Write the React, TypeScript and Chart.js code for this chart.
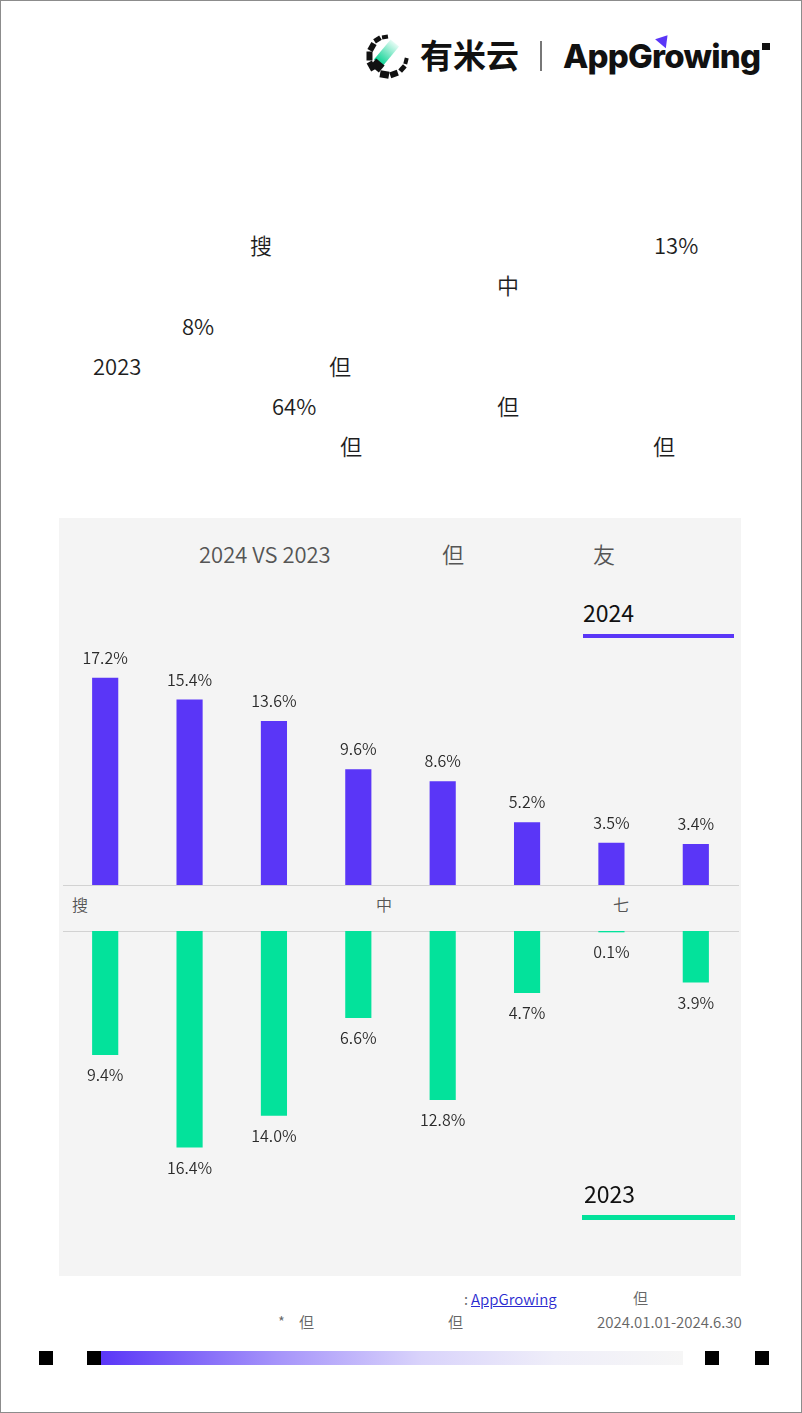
import React, { useEffect, useRef } from "react";
import { Chart, registerables } from "chart.js";

Chart.register(...registerables);

// ---------- data ----------
const categories = ["1", "2", "3", "4", "5", "6", "7", "8"];
const values2024 = [17.2, 15.4, 13.6, 9.6, 8.6, 5.2, 3.5, 3.4];
const values2023 = [9.4, 16.4, 14.0, 6.6, 12.8, 4.7, 0.1, 3.9];
const seriesLabels = ["2024", "2023"];

const PURPLE = "#5a36f7";
const GREEN = "#03e29b";
const FONT = '"Noto Sans CJK SC", "Noto Sans", sans-serif';

const valueLabels = (dir: number) => ({
  id: "valueLabels",
  afterDatasetsDraw(chart: any) {
    const { ctx } = chart;
    const meta = chart.getDatasetMeta(0);
    const data = chart.data.datasets[0].data as number[];
    ctx.save();
    ctx.font = `350 16px ${FONT}`;
    ctx.fillStyle = "#2a2a2a";
    ctx.textAlign = "center";
    ctx.textBaseline = "middle";
    meta.data.forEach((bar: any, i: number) => {
      ctx.fillText(`${data[i].toFixed(1)}%`, bar.x, bar.y + dir * 20);
    });
    ctx.restore();
  },
});

function makeChart(
  canvas: HTMLCanvasElement,
  label: string,
  values: number[],
  color: string,
  max: number,
  reverse: boolean,
  dir: number
) {
  return new Chart(canvas, {
    type: "bar",
    data: {
      labels: categories,
      datasets: [
        {
          label,
          data: values,
          backgroundColor: color,
          borderWidth: 0,
          barPercentage: 0.31,
          categoryPercentage: 1,
        },
      ],
    },
    options: {
      animation: false,
      responsive: true,
      maintainAspectRatio: false,
      layout: { padding: 0 },
      plugins: { legend: { display: false }, tooltip: { enabled: false } },
      scales: {
        x: { display: false, offset: true },
        y: { display: false, min: 0, max, reverse },
      },
    },
    plugins: [valueLabels(dir)],
  } as any);
}

const T = ({
  x,
  cy,
  size,
  color = "#1e1e1e",
  weight = 350,
  style = {},
  children,
}: any) => (
  <div
    style={{
      position: "absolute",
      left: x,
      top: cy - size * 0.56,
      fontSize: size,
      lineHeight: 1,
      color,
      fontWeight: weight,
      whiteSpace: "nowrap",
      fontFamily: FONT,
      ...style,
    }}
  >
    {children}
  </div>
);

const Box = ({ x, y, w, h, bg, style = {} }: any) => (
  <div style={{ position: "absolute", left: x, top: y, width: w, height: h, background: bg, ...style }} />
);

function Logo() {
  const dashes = [
    { a: 150, w: 9, h: 6 },
    { a: 180, w: 9, h: 6 },
    { a: 210, w: 8, h: 6 },
    { a: 238, w: 7, h: 5 },
    { a: 262, w: 6, h: 4 },
    { a: 15, w: 6, h: 4 },
    { a: 42, w: 7, h: 5 },
    { a: 70, w: 8, h: 6 },
    { a: 100, w: 9, h: 7 },
  ];
  const cx = 388;
  const cy = 56;
  const r = 19;
  return (
    <>
      {dashes.map((d, i) => {
        const rad = (d.a * Math.PI) / 180;
        return (
          <div
            key={i}
            style={{
              position: "absolute",
              left: cx + r * Math.cos(rad) - d.w / 2,
              top: cy + r * Math.sin(rad) - d.h / 2,
              width: d.w,
              height: d.h,
              background: "#111",
              transform: `rotate(${d.a + 90}deg)`,
            }}
          />
        );
      })}
      <div
        style={{
          position: "absolute",
          left: 381,
          top: 40,
          width: 11,
          height: 26,
          background: "linear-gradient(to bottom, rgba(3,226,155,0.1), #03d08f)",
          transform: "rotate(40deg)",
          transformOrigin: "50% 50%",
        }}
      />
      <div
        style={{
          position: "absolute",
          left: 372,
          top: 61,
          width: 11,
          height: 9,
          background: "#111",
          transform: "rotate(40deg)",
        }}
      />
      <T x={420} cy={56} size={33} color="#111" weight={700}>
        有米云
      </T>
      <Box x={540} y={41} w={2} h={30} bg="#777" />
      <div
        style={{
          position: "absolute",
          left: 563,
          top: 36,
          fontFamily: "Inter, sans-serif",
          fontWeight: 800,
          fontSize: 33,
          lineHeight: "40px",
          letterSpacing: -0.8,
          color: "#111",
          whiteSpace: "nowrap",
        }}
      >
        AppGrowing
      </div>
      <div
        style={{
          position: "absolute",
          left: 657,
          top: 34,
          width: 0,
          height: 0,
          borderLeft: "7px solid transparent",
          borderRight: "7px solid transparent",
          borderBottom: "11px solid " + PURPLE,
          transform: "rotate(40deg)",
        }}
      />
      <Box x={762} y={43} w={8} h={7} bg="#111" />
    </>
  );
}

export default function App() {
  const topRef = useRef<HTMLCanvasElement>(null);
  const botRef = useRef<HTMLCanvasElement>(null);

  useEffect(() => {
    const c1 = makeChart(topRef.current!, seriesLabels[0], values2024, PURPLE, 285 / 12.05, false, -1);
    const c2 = makeChart(botRef.current!, seriesLabels[1], values2023, GREEN, 270 / 13.2, true, 1);
    return () => {
      c1.destroy();
      c2.destroy();
    };
  }, []);

  return (
    <div
      style={{
        position: "absolute",
        left: 0,
        top: 0,
        width: 802,
        height: 1413,
        background: "#fff",
        overflow: "hidden",
        fontFamily: FONT,
      }}
    >
      <Logo />

      {/* headline text */}
      <T x={250} cy={245} size={22}>搜</T>
      <T x={654} cy={245} size={22}>13%</T>
      <T x={497} cy={285} size={22}>中</T>
      <T x={182} cy={326} size={22}>8%</T>
      <T x={93} cy={366} size={22}>2023</T>
      <T x={329} cy={366} size={22}>但</T>
      <T x={272} cy={406} size={22}>64%</T>
      <T x={497} cy={406} size={22}>但</T>
      <T x={340} cy={446} size={22}>但</T>
      <T x={653} cy={446} size={22}>但</T>

      {/* panel */}
      <Box x={59} y={518} w={682} h={758} bg="#f4f4f4" />

      <T x={199} cy={554} size={22} color="#555">2024 VS 2023</T>
      <T x={442} cy={554} size={22} color="#555">但</T>
      <T x={593} cy={554} size={22} color="#555">友</T>

      <T x={583} cy={614} size={23} color="#111" weight={400}>{seriesLabels[0]}</T>
      <Box x={583} y={634} w={151} h={4} bg={PURPLE} />

      <div style={{ position: "absolute", left: 63, top: 600, width: 675, height: 285 }}>
        <canvas ref={topRef} />
      </div>

      <Box x={63} y={885} w={676} h={1} bg="#d2d2d2" />
      <Box x={63} y={931} w={676} h={1} bg="#d2d2d2" />
      <T x={72} cy={905} size={16} color="#555">搜</T>
      <T x={376} cy={905} size={16} color="#555">中</T>
      <T x={613} cy={905} size={16} color="#555">七</T>

      <div style={{ position: "absolute", left: 63, top: 931, width: 675, height: 270 }}>
        <canvas ref={botRef} />
      </div>

      <T x={584} cy={1195} size={23} color="#111" weight={400}>{seriesLabels[1]}</T>
      <Box x={582} y={1215} w={153} h={5} bg={GREEN} />

      {/* footer */}
      <T x={464} cy={1299} size={15} color="#666">:</T>
      <T x={471} cy={1299} size={15} color="#2b2bd0" style={{ textDecoration: "underline" }}>
        AppGrowing
      </T>
      <T x={633} cy={1298} size={15} color="#666">但</T>
      <T x={278} cy={1322} size={15} color="#666">*</T>
      <T x={299} cy={1322} size={15} color="#666">但</T>
      <T x={448} cy={1322} size={15} color="#666">但</T>
      <T x={597} cy={1322} size={15} color="#666">
        2024.01.01-2024.6.30
      </T>

      {/* bottom decoration */}
      <Box x={39} y={1351} w={14} h={14} bg="#000" />
      <Box x={87} y={1351} w={14} h={14} bg="#000" />
      <Box
        x={101}
        y={1351}
        w={582}
        h={14}
        bg="linear-gradient(90deg, #5a36f7 0%, #a593fa 30%, #d9d3fb 55%, #efeef9 78%, #f6f6f6 100%)"
      />
      <Box x={705} y={1351} w={14} h={14} bg="#000" />
      <Box x={755} y={1351} w={14} h={14} bg="#000" />

      {/* page border */}
      <div
        style={{
          position: "absolute",
          left: 0,
          top: 0,
          width: 802,
          height: 1413,
          boxSizing: "border-box",
          border: "1px solid #8c8c8c",
          pointerEvents: "none",
        }}
      />
    </div>
  );
}
